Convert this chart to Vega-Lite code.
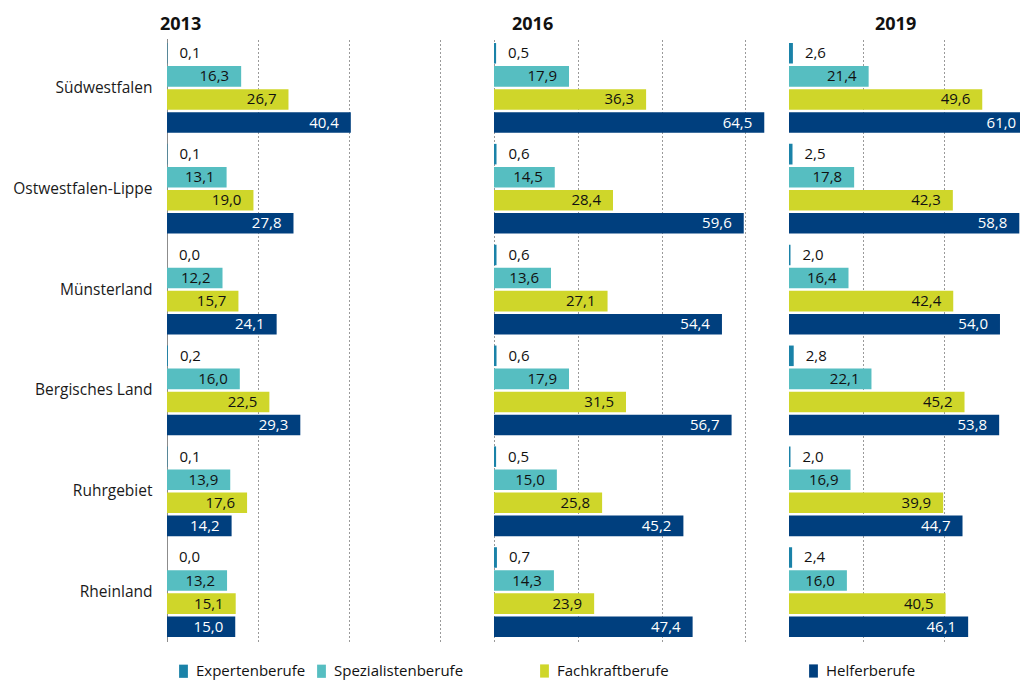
{
  "$schema": "https://vega.github.io/schema/vega-lite/v6.json",
  "padding": {"left": 12, "top": 15.5, "right": 0, "bottom": 0},
  "spacing": 0,
  "config": {
    "locale": {"number": {"decimal": ",", "thousands": ".", "grouping": [3], "currency": ["", " €"]}},
    "font": "Open Sans",
    "view": {"stroke": null},
    "title": {"font": "Open Sans", "fontSize": 18, "fontWeight": "bold", "color": "#111", "anchor": "start", "frame": "group", "baseline": "alphabetic", "offset": 5},
    "legend": {
      "orient": "none", "legendX": 9, "legendY": 625, "direction": "horizontal",
      "title": null, "labelFont": "Open Sans", "labelFontSize": 15, "labelColor": "#111", "labelLimit": 500,
      "symbolType": "M-1.1,-1.65H1.1V1.65H-1.1Z", "symbolSize": 64, "symbolStrokeWidth": 0,
      "labelOffset": 5, "columnPadding": 8, "gridAlign": "each"
    }
  },
  "data": {"values": [
    {"jahr": 2013, "region": "Südwestfalen", "beruf": "Expertenberufe", "wert": 0.1},
    {"jahr": 2013, "region": "Südwestfalen", "beruf": "Spezialistenberufe", "wert": 16.3},
    {"jahr": 2013, "region": "Südwestfalen", "beruf": "Fachkraftberufe", "wert": 26.7},
    {"jahr": 2013, "region": "Südwestfalen", "beruf": "Helferberufe", "wert": 40.4},
    {"jahr": 2013, "region": "Ostwestfalen-Lippe", "beruf": "Expertenberufe", "wert": 0.1},
    {"jahr": 2013, "region": "Ostwestfalen-Lippe", "beruf": "Spezialistenberufe", "wert": 13.1},
    {"jahr": 2013, "region": "Ostwestfalen-Lippe", "beruf": "Fachkraftberufe", "wert": 19.0},
    {"jahr": 2013, "region": "Ostwestfalen-Lippe", "beruf": "Helferberufe", "wert": 27.8},
    {"jahr": 2013, "region": "Münsterland", "beruf": "Expertenberufe", "wert": 0.0},
    {"jahr": 2013, "region": "Münsterland", "beruf": "Spezialistenberufe", "wert": 12.2},
    {"jahr": 2013, "region": "Münsterland", "beruf": "Fachkraftberufe", "wert": 15.7},
    {"jahr": 2013, "region": "Münsterland", "beruf": "Helferberufe", "wert": 24.1},
    {"jahr": 2013, "region": "Bergisches Land", "beruf": "Expertenberufe", "wert": 0.2},
    {"jahr": 2013, "region": "Bergisches Land", "beruf": "Spezialistenberufe", "wert": 16.0},
    {"jahr": 2013, "region": "Bergisches Land", "beruf": "Fachkraftberufe", "wert": 22.5},
    {"jahr": 2013, "region": "Bergisches Land", "beruf": "Helferberufe", "wert": 29.3},
    {"jahr": 2013, "region": "Ruhrgebiet", "beruf": "Expertenberufe", "wert": 0.1},
    {"jahr": 2013, "region": "Ruhrgebiet", "beruf": "Spezialistenberufe", "wert": 13.9},
    {"jahr": 2013, "region": "Ruhrgebiet", "beruf": "Fachkraftberufe", "wert": 17.6},
    {"jahr": 2013, "region": "Ruhrgebiet", "beruf": "Helferberufe", "wert": 14.2},
    {"jahr": 2013, "region": "Rheinland", "beruf": "Expertenberufe", "wert": 0.0},
    {"jahr": 2013, "region": "Rheinland", "beruf": "Spezialistenberufe", "wert": 13.2},
    {"jahr": 2013, "region": "Rheinland", "beruf": "Fachkraftberufe", "wert": 15.1},
    {"jahr": 2013, "region": "Rheinland", "beruf": "Helferberufe", "wert": 15.0},
    {"jahr": 2016, "region": "Südwestfalen", "beruf": "Expertenberufe", "wert": 0.5},
    {"jahr": 2016, "region": "Südwestfalen", "beruf": "Spezialistenberufe", "wert": 17.9},
    {"jahr": 2016, "region": "Südwestfalen", "beruf": "Fachkraftberufe", "wert": 36.3},
    {"jahr": 2016, "region": "Südwestfalen", "beruf": "Helferberufe", "wert": 64.5},
    {"jahr": 2016, "region": "Ostwestfalen-Lippe", "beruf": "Expertenberufe", "wert": 0.6},
    {"jahr": 2016, "region": "Ostwestfalen-Lippe", "beruf": "Spezialistenberufe", "wert": 14.5},
    {"jahr": 2016, "region": "Ostwestfalen-Lippe", "beruf": "Fachkraftberufe", "wert": 28.4},
    {"jahr": 2016, "region": "Ostwestfalen-Lippe", "beruf": "Helferberufe", "wert": 59.6},
    {"jahr": 2016, "region": "Münsterland", "beruf": "Expertenberufe", "wert": 0.6},
    {"jahr": 2016, "region": "Münsterland", "beruf": "Spezialistenberufe", "wert": 13.6},
    {"jahr": 2016, "region": "Münsterland", "beruf": "Fachkraftberufe", "wert": 27.1},
    {"jahr": 2016, "region": "Münsterland", "beruf": "Helferberufe", "wert": 54.4},
    {"jahr": 2016, "region": "Bergisches Land", "beruf": "Expertenberufe", "wert": 0.6},
    {"jahr": 2016, "region": "Bergisches Land", "beruf": "Spezialistenberufe", "wert": 17.9},
    {"jahr": 2016, "region": "Bergisches Land", "beruf": "Fachkraftberufe", "wert": 31.5},
    {"jahr": 2016, "region": "Bergisches Land", "beruf": "Helferberufe", "wert": 56.7},
    {"jahr": 2016, "region": "Ruhrgebiet", "beruf": "Expertenberufe", "wert": 0.5},
    {"jahr": 2016, "region": "Ruhrgebiet", "beruf": "Spezialistenberufe", "wert": 15.0},
    {"jahr": 2016, "region": "Ruhrgebiet", "beruf": "Fachkraftberufe", "wert": 25.8},
    {"jahr": 2016, "region": "Ruhrgebiet", "beruf": "Helferberufe", "wert": 45.2},
    {"jahr": 2016, "region": "Rheinland", "beruf": "Expertenberufe", "wert": 0.7},
    {"jahr": 2016, "region": "Rheinland", "beruf": "Spezialistenberufe", "wert": 14.3},
    {"jahr": 2016, "region": "Rheinland", "beruf": "Fachkraftberufe", "wert": 23.9},
    {"jahr": 2016, "region": "Rheinland", "beruf": "Helferberufe", "wert": 47.4},
    {"jahr": 2019, "region": "Südwestfalen", "beruf": "Expertenberufe", "wert": 2.6},
    {"jahr": 2019, "region": "Südwestfalen", "beruf": "Spezialistenberufe", "wert": 21.4},
    {"jahr": 2019, "region": "Südwestfalen", "beruf": "Fachkraftberufe", "wert": 49.6},
    {"jahr": 2019, "region": "Südwestfalen", "beruf": "Helferberufe", "wert": 61.0},
    {"jahr": 2019, "region": "Ostwestfalen-Lippe", "beruf": "Expertenberufe", "wert": 2.5},
    {"jahr": 2019, "region": "Ostwestfalen-Lippe", "beruf": "Spezialistenberufe", "wert": 17.8},
    {"jahr": 2019, "region": "Ostwestfalen-Lippe", "beruf": "Fachkraftberufe", "wert": 42.3},
    {"jahr": 2019, "region": "Ostwestfalen-Lippe", "beruf": "Helferberufe", "wert": 58.8},
    {"jahr": 2019, "region": "Münsterland", "beruf": "Expertenberufe", "wert": 2.0},
    {"jahr": 2019, "region": "Münsterland", "beruf": "Spezialistenberufe", "wert": 16.4},
    {"jahr": 2019, "region": "Münsterland", "beruf": "Fachkraftberufe", "wert": 42.4},
    {"jahr": 2019, "region": "Münsterland", "beruf": "Helferberufe", "wert": 54.0},
    {"jahr": 2019, "region": "Bergisches Land", "beruf": "Expertenberufe", "wert": 2.8},
    {"jahr": 2019, "region": "Bergisches Land", "beruf": "Spezialistenberufe", "wert": 22.1},
    {"jahr": 2019, "region": "Bergisches Land", "beruf": "Fachkraftberufe", "wert": 45.2},
    {"jahr": 2019, "region": "Bergisches Land", "beruf": "Helferberufe", "wert": 53.8},
    {"jahr": 2019, "region": "Ruhrgebiet", "beruf": "Expertenberufe", "wert": 2.0},
    {"jahr": 2019, "region": "Ruhrgebiet", "beruf": "Spezialistenberufe", "wert": 16.9},
    {"jahr": 2019, "region": "Ruhrgebiet", "beruf": "Fachkraftberufe", "wert": 39.9},
    {"jahr": 2019, "region": "Ruhrgebiet", "beruf": "Helferberufe", "wert": 44.7},
    {"jahr": 2019, "region": "Rheinland", "beruf": "Expertenberufe", "wert": 2.4},
    {"jahr": 2019, "region": "Rheinland", "beruf": "Spezialistenberufe", "wert": 16.0},
    {"jahr": 2019, "region": "Rheinland", "beruf": "Fachkraftberufe", "wert": 40.5},
    {"jahr": 2019, "region": "Rheinland", "beruf": "Helferberufe", "wert": 46.1}
  ]},
  "resolve": {"scale": {"x": "independent", "color": "independent"}, "legend": {"color": "independent"}},
  "hconcat": [
    {
      "title": {"text": "2013", "dx": -7},
      "width": 327, "height": 603,
      "transform": [{"filter": "datum.jahr == 2013"}],
      "encoding": {
        "y": {"field": "region", "type": "nominal", "sort": ["Südwestfalen", "Ostwestfalen-Lippe", "Münsterland", "Bergisches Land", "Ruhrgebiet", "Rheinland"],
              "scale": {"paddingInner": 0.11, "paddingOuter": 0.045},
              "axis": {"title": null, "ticks": false, "domain": true, "domainColor": "#8c8c8c", "labelFont": "Open Sans", "labelFontSize": 15.5, "labelColor": "#1a1a1a", "labelPadding": 15}},
        "yOffset": {"field": "beruf", "type": "nominal", "sort": ["Expertenberufe", "Spezialistenberufe", "Fachkraftberufe", "Helferberufe"], "scale": {"paddingInner": 0.11, "paddingOuter": 0}},
        "x": {"field": "wert", "type": "quantitative", "scale": {"domain": [0, 71.87], "nice": false},
              "axis": {"title": null, "labels": false, "ticks": false, "domain": false, "grid": true, "values": [20, 40, 60], "gridColor": "#9a9a9a", "gridDash": [2, 2], "gridWidth": 1}}
      },
      "layer": [
        {"mark": {"type": "bar"},
         "encoding": {"color": {"field": "beruf", "type": "nominal", "sort": ["Expertenberufe", "Spezialistenberufe", "Fachkraftberufe", "Helferberufe"],
           "scale": {"domain": ["Expertenberufe", "Spezialistenberufe", "Fachkraftberufe", "Helferberufe"], "range": ["#1a82a8", "#56bec1", "#cfd62a", "#003f7e"]},
           "legend": {"values": ["Expertenberufe", "Spezialistenberufe"], "legendX": 9, "columns": 2}}}},
        {"transform": [{"filter": "datum.beruf != 'Expertenberufe'"}],
         "mark": {"type": "text", "align": "right", "dx": -12, "fontSize": 15, "font": "Open Sans"},
         "encoding": {"text": {"field": "wert", "type": "quantitative", "format": ".1f"},
           "color": {"condition": {"test": "datum.beruf == 'Helferberufe'", "value": "#ffffff"}, "value": "#111111"}}},
        {"transform": [{"filter": "datum.beruf == 'Expertenberufe'"}],
         "mark": {"type": "text", "align": "left", "dx": 12, "fontSize": 15, "font": "Open Sans", "color": "#111111"},
         "encoding": {"text": {"field": "wert", "type": "quantitative", "format": ".1f"}}}
      ]
    },
    {
      "title": {"text": "2016", "dx": 18},
      "width": 294.7, "height": 603,
      "transform": [{"filter": "datum.jahr == 2016"}],
      "encoding": {
        "y": {"field": "region", "type": "nominal", "sort": ["Südwestfalen", "Ostwestfalen-Lippe", "Münsterland", "Bergisches Land", "Ruhrgebiet", "Rheinland"],
              "scale": {"paddingInner": 0.11, "paddingOuter": 0.045}, "axis": null},
        "yOffset": {"field": "beruf", "type": "nominal", "sort": ["Expertenberufe", "Spezialistenberufe", "Fachkraftberufe", "Helferberufe"], "scale": {"paddingInner": 0.11, "paddingOuter": 0}},
        "x": {"field": "wert", "type": "quantitative", "scale": {"domain": [0, 70.33], "nice": false},
              "axis": {"title": null, "labels": false, "ticks": false, "domain": false, "grid": true, "values": [0, 20, 40, 60], "gridColor": "#9a9a9a", "gridDash": [2, 2], "gridWidth": 1}}
      },
      "layer": [
        {"mark": {"type": "bar"},
         "encoding": {"color": {"field": "beruf", "type": "nominal", "sort": ["Expertenberufe", "Spezialistenberufe", "Fachkraftberufe", "Helferberufe"],
           "scale": {"domain": ["Expertenberufe", "Spezialistenberufe", "Fachkraftberufe", "Helferberufe"], "range": ["#1a82a8", "#56bec1", "#cfd62a", "#003f7e"]},
           "legend": {"values": ["Fachkraftberufe"], "legendX": 43}}}},
        {"transform": [{"filter": "datum.beruf != 'Expertenberufe'"}],
         "mark": {"type": "text", "align": "right", "dx": -12, "fontSize": 15, "font": "Open Sans"},
         "encoding": {"text": {"field": "wert", "type": "quantitative", "format": ".1f"},
           "color": {"condition": {"test": "datum.beruf == 'Helferberufe'", "value": "#ffffff"}, "value": "#111111"}}},
        {"transform": [{"filter": "datum.beruf == 'Expertenberufe'"}],
         "mark": {"type": "text", "align": "left", "dx": 12, "fontSize": 15, "font": "Open Sans", "color": "#111111"},
         "encoding": {"text": {"field": "wert", "type": "quantitative", "format": ".1f"}}}
      ]
    },
    {
      "title": {"text": "2019", "dx": 86},
      "width": 231, "height": 603,
      "transform": [{"filter": "datum.jahr == 2019"}],
      "encoding": {
        "y": {"field": "region", "type": "nominal", "sort": ["Südwestfalen", "Ostwestfalen-Lippe", "Münsterland", "Bergisches Land", "Ruhrgebiet", "Rheinland"],
              "scale": {"paddingInner": 0.11, "paddingOuter": 0.045}, "axis": null},
        "yOffset": {"field": "beruf", "type": "nominal", "sort": ["Expertenberufe", "Spezialistenberufe", "Fachkraftberufe", "Helferberufe"], "scale": {"paddingInner": 0.11, "paddingOuter": 0}},
        "x": {"field": "wert", "type": "quantitative", "scale": {"domain": [1.63, 58.97], "nice": false, "zero": false},
              "axis": {"title": null, "labels": false, "ticks": false, "domain": false, "grid": true, "values": [20, 40], "gridColor": "#9a9a9a", "gridDash": [2, 2], "gridWidth": 1}}
      },
      "layer": [
        {"mark": {"type": "bar", "clip": true},
         "encoding": {"color": {"field": "beruf", "type": "nominal", "sort": ["Expertenberufe", "Spezialistenberufe", "Fachkraftberufe", "Helferberufe"],
           "scale": {"domain": ["Expertenberufe", "Spezialistenberufe", "Fachkraftberufe", "Helferberufe"], "range": ["#1a82a8", "#56bec1", "#cfd62a", "#003f7e"]},
           "legend": {"values": ["Helferberufe"], "legendX": 17}}}},
        {"transform": [{"filter": "datum.beruf != 'Expertenberufe'"}],
         "mark": {"type": "text", "align": "right", "dx": -12, "fontSize": 15, "font": "Open Sans"},
         "encoding": {"text": {"field": "wert", "type": "quantitative", "format": ".1f"},
           "color": {"condition": {"test": "datum.beruf == 'Helferberufe'", "value": "#ffffff"}, "value": "#111111"}}},
        {"transform": [{"filter": "datum.beruf == 'Expertenberufe'"}],
         "mark": {"type": "text", "align": "left", "dx": 12, "fontSize": 15, "font": "Open Sans", "color": "#111111"},
         "encoding": {"text": {"field": "wert", "type": "quantitative", "format": ".1f"}}}
      ]
    }
  ]
}
